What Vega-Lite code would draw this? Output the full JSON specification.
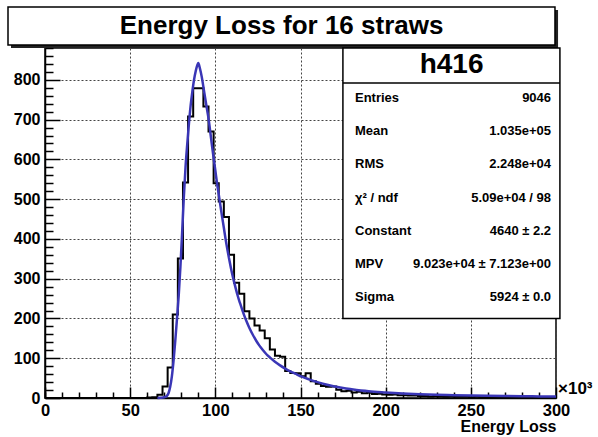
{
  "$schema": "https://vega.github.io/schema/vega-lite/v6.json",
  "width": 511,
  "height": 350,
  "autosize": {"type": "none"},
  "padding": {"left": 45, "top": 48, "right": 42, "bottom": 39},
  "background": "white",
  "config": {
    "view": {"stroke": "black", "strokeWidth": 1.5},
    "font": "Liberation Sans",
    "axis": {"labelFont": "Liberation Sans", "titleFont": "Liberation Sans", "labelColor": "black", "titleColor": "black", "domainColor": "black", "tickColor": "black"}
  },
  "datasets": {
    "hist": [
      {"e": 0, "n": 0}, {"e": 3, "n": 0}, {"e": 6, "n": 0}, {"e": 9, "n": 0}, {"e": 12, "n": 0},
      {"e": 15, "n": 0}, {"e": 18, "n": 0}, {"e": 21, "n": 0}, {"e": 24, "n": 0}, {"e": 27, "n": 0},
      {"e": 30, "n": 0}, {"e": 33, "n": 0}, {"e": 36, "n": 0}, {"e": 39, "n": 0}, {"e": 42, "n": 0},
      {"e": 45, "n": 0}, {"e": 48, "n": 0}, {"e": 51, "n": 0}, {"e": 54, "n": 0}, {"e": 57, "n": 0},
      {"e": 60, "n": 1}, {"e": 63, "n": 2}, {"e": 66, "n": 8}, {"e": 69, "n": 29}, {"e": 72, "n": 77},
      {"e": 75, "n": 210}, {"e": 78, "n": 351}, {"e": 81, "n": 542}, {"e": 84, "n": 708}, {"e": 87, "n": 779},
      {"e": 90, "n": 779}, {"e": 93, "n": 733}, {"e": 96, "n": 670}, {"e": 99, "n": 540}, {"e": 102, "n": 494},
      {"e": 105, "n": 455}, {"e": 108, "n": 360}, {"e": 111, "n": 290}, {"e": 114, "n": 262}, {"e": 117, "n": 218},
      {"e": 120, "n": 200}, {"e": 123, "n": 182}, {"e": 126, "n": 170}, {"e": 129, "n": 150}, {"e": 132, "n": 122},
      {"e": 135, "n": 106}, {"e": 138, "n": 104}, {"e": 141, "n": 68}, {"e": 144, "n": 63}, {"e": 147, "n": 62},
      {"e": 150, "n": 55}, {"e": 153, "n": 62}, {"e": 156, "n": 42}, {"e": 159, "n": 36}, {"e": 162, "n": 30},
      {"e": 165, "n": 28}, {"e": 168, "n": 29}, {"e": 171, "n": 21}, {"e": 174, "n": 17}, {"e": 177, "n": 18},
      {"e": 180, "n": 14}, {"e": 183, "n": 16}, {"e": 186, "n": 12}, {"e": 189, "n": 13}, {"e": 192, "n": 10},
      {"e": 195, "n": 11}, {"e": 198, "n": 9}, {"e": 201, "n": 8}, {"e": 204, "n": 9}, {"e": 207, "n": 7},
      {"e": 210, "n": 7}, {"e": 213, "n": 6}, {"e": 216, "n": 6}, {"e": 219, "n": 5}, {"e": 222, "n": 5},
      {"e": 225, "n": 4}, {"e": 228, "n": 5}, {"e": 231, "n": 4}, {"e": 234, "n": 3}, {"e": 237, "n": 4},
      {"e": 240, "n": 3}, {"e": 243, "n": 3}, {"e": 246, "n": 3}, {"e": 249, "n": 2}, {"e": 252, "n": 3},
      {"e": 255, "n": 2}, {"e": 258, "n": 2}, {"e": 261, "n": 2}, {"e": 264, "n": 2}, {"e": 267, "n": 1},
      {"e": 270, "n": 2}, {"e": 273, "n": 1}, {"e": 276, "n": 1}, {"e": 279, "n": 1}, {"e": 282, "n": 1},
      {"e": 285, "n": 1}, {"e": 288, "n": 1}, {"e": 291, "n": 1}, {"e": 294, "n": 0}, {"e": 297, "n": 1},
      {"e": 300, "n": 1}
    ],
    "fit": [
      {"e": 66, "v": 0}, {"e": 68, "v": 0.5}, {"e": 70, "v": 2}, {"e": 71.5, "v": 5}, {"e": 72.5, "v": 12},
      {"e": 73.5, "v": 28}, {"e": 74.5, "v": 55}, {"e": 75.5, "v": 95}, {"e": 76.5, "v": 145}, {"e": 77.5, "v": 200},
      {"e": 78.5, "v": 258}, {"e": 79.5, "v": 330}, {"e": 80.5, "v": 415}, {"e": 81.5, "v": 505}, {"e": 82.5, "v": 580},
      {"e": 83.5, "v": 638}, {"e": 84.5, "v": 690}, {"e": 85.5, "v": 735}, {"e": 86.5, "v": 770}, {"e": 87.5, "v": 800},
      {"e": 88.5, "v": 822}, {"e": 89.5, "v": 838}, {"e": 90, "v": 842}, {"e": 91, "v": 828}, {"e": 92, "v": 808},
      {"e": 93, "v": 782}, {"e": 94, "v": 755}, {"e": 95, "v": 729}, {"e": 96, "v": 703}, {"e": 97, "v": 670},
      {"e": 98, "v": 636}, {"e": 99, "v": 603}, {"e": 100, "v": 572}, {"e": 101, "v": 540}, {"e": 102, "v": 512},
      {"e": 103, "v": 483}, {"e": 104, "v": 455}, {"e": 105, "v": 428}, {"e": 106, "v": 400}, {"e": 107, "v": 375},
      {"e": 108, "v": 352}, {"e": 109, "v": 330}, {"e": 110, "v": 310}, {"e": 111, "v": 292}, {"e": 112, "v": 275},
      {"e": 113, "v": 259}, {"e": 114, "v": 245}, {"e": 115, "v": 232}, {"e": 116, "v": 219}, {"e": 117, "v": 207},
      {"e": 118, "v": 196}, {"e": 120, "v": 176}, {"e": 122, "v": 159}, {"e": 124, "v": 144}, {"e": 126, "v": 131},
      {"e": 128, "v": 120}, {"e": 130, "v": 110}, {"e": 132, "v": 102}, {"e": 135, "v": 91}, {"e": 138, "v": 82},
      {"e": 141, "v": 74}, {"e": 144, "v": 67}, {"e": 147, "v": 61}, {"e": 150, "v": 55}, {"e": 155, "v": 47},
      {"e": 160, "v": 40}, {"e": 165, "v": 34}, {"e": 170, "v": 29}, {"e": 175, "v": 25}, {"e": 180, "v": 22},
      {"e": 190, "v": 17}, {"e": 200, "v": 14}, {"e": 210, "v": 11.5}, {"e": 220, "v": 9.7}, {"e": 230, "v": 8.3},
      {"e": 240, "v": 7.2}, {"e": 250, "v": 6.3}, {"e": 260, "v": 5.5}, {"e": 270, "v": 4.9}, {"e": 280, "v": 4.4},
      {"e": 290, "v": 4}, {"e": 300, "v": 3.6}
    ],
    "stats": [
      {"name": "Entries", "val": "9046"},
      {"name": "Mean", "val": "1.035e+05"},
      {"name": "RMS", "val": "2.248e+04"},
      {"name": "χ² / ndf", "val": "5.09e+04 / 98"},
      {"name": "Constant", "val": "4640 ± 2.2"},
      {"name": "MPV", "val": "9.023e+04 ± 7.123e+00"},
      {"name": "Sigma", "val": "5924 ± 0.0"}
    ]
  },
  "layer": [
    {
      "layer": [
        {
          "data": {"values": [{}]},
          "mark": {"type": "rect", "fill": "#222"},
          "encoding": {
            "x": {"datum": -19.96, "type": "quantitative", "axis": null},
            "x2": {"datum": 301.2},
            "y": {"datum": 975.6, "type": "quantitative", "axis": null},
            "y2": {"datum": 880}
          }
        },
        {
          "data": {"values": [{}]},
          "mark": {"type": "rect", "fill": "white", "stroke": "black", "strokeWidth": 1.5},
          "encoding": {
            "x": {"datum": -21.72, "type": "quantitative", "axis": null},
            "x2": {"datum": 299.4},
            "y": {"datum": 983.1, "type": "quantitative", "axis": null},
            "y2": {"datum": 887.6}
          }
        },
        {
          "data": {"values": [{"t": "Energy Loss for 16 straws"}]},
          "mark": {"type": "text", "font": "Liberation Sans", "fontWeight": "bold", "fontSize": 26, "align": "center", "baseline": "middle", "color": "black"},
          "encoding": {
            "text": {"field": "t"},
            "x": {"datum": 138.9, "type": "quantitative", "axis": null},
            "y": {"datum": 935.5, "type": "quantitative", "axis": null}
          }
        },
        {
          "data": {"name": "hist"},
          "mark": {"type": "line", "interpolate": "step-after", "color": "black", "strokeWidth": 2},
          "encoding": {
            "x": {
              "field": "e", "type": "quantitative",
              "scale": {"domain": [0, 300], "nice": false, "zero": false},
              "axis": {
                "orient": "bottom",
                "values": [0, 50, 100, 150, 200, 250, 300],
                "grid": true, "gridDash": [2, 2], "gridColor": "#444", "gridWidth": 1,
                "tickSize": -11, "tickWidth": 1.5, "domainWidth": 1.5,
                "labelFontWeight": "bold", "labelFontSize": 16.5, "labelPadding": 15,
                "labelFlush": false, "labelOverlap": false,
                "title": "Energy Loss", "titleAnchor": "end", "titleFontSize": 16, "titleFontWeight": "bold", "titlePadding": 0
              }
            },
            "y": {
              "field": "n", "type": "quantitative",
              "scale": {"domain": [0, 880], "nice": false, "zero": true},
              "axis": {
                "orient": "left",
                "values": [0, 100, 200, 300, 400, 500, 600, 700, 800],
                "grid": true, "gridDash": [2, 2], "gridColor": "#444", "gridWidth": 1,
                "tickSize": -15, "tickWidth": 1.5, "domainWidth": 1.5,
                "labelFontWeight": "bold", "labelFontSize": 16, "labelPadding": 20,
                "labelFlush": false, "labelOverlap": false,
                "title": null
              }
            }
          }
        },
        {
          "data": {"name": "fit"},
          "mark": {"type": "line", "interpolate": "monotone", "color": "#3a36b6", "strokeWidth": 2.5},
          "encoding": {
            "x": {
              "field": "e", "type": "quantitative",
              "axis": {
                "orient": "bottom",
                "values": [0,10,20,30,40,60,70,80,90,110,120,130,140,160,170,180,190,210,220,230,240,260,270,280,290],
                "labels": false, "grid": false, "domain": false,
                "tickSize": -6, "tickWidth": 1.5, "title": null
              }
            },
            "y": {
              "field": "v", "type": "quantitative",
              "axis": {
                "orient": "left",
                "values": [20,40,60,80,120,140,160,180,220,240,260,280,320,340,360,380,420,440,460,480,520,540,560,580,620,640,660,680,720,740,760,780,820,840,860,880],
                "labels": false, "grid": false, "domain": false,
                "tickSize": -8, "tickWidth": 1.5, "title": null
              }
            }
          }
        },
        {
          "data": {"values": [{}]},
          "mark": {"type": "rect", "fill": "white", "stroke": "black", "strokeWidth": 1.5},
          "encoding": {
            "x": {"datum": 174.9, "type": "quantitative", "axis": null},
            "x2": {"datum": 302.3},
            "y": {"datum": 880, "type": "quantitative", "axis": null},
            "y2": {"datum": 200}
          }
        },
        {
          "data": {"values": [{}]},
          "mark": {"type": "rule", "color": "black", "strokeWidth": 1.5},
          "encoding": {
            "x": {"datum": 174.9, "type": "quantitative", "axis": null},
            "x2": {"datum": 302.3},
            "y": {"datum": 792, "type": "quantitative", "axis": null}
          }
        },
        {
          "data": {"values": [{"t": "×10³"}]},
          "mark": {"type": "text", "font": "Liberation Sans", "fontWeight": "bold", "fontSize": 17, "align": "left", "baseline": "middle", "dx": 2, "dy": -9, "color": "black"},
          "encoding": {
            "text": {"field": "t"},
            "x": {"datum": 300, "type": "quantitative", "axis": null},
            "y": {"datum": 0, "type": "quantitative", "axis": null}
          }
        }
      ],
      "resolve": {"axis": {"x": "independent", "y": "independent"}}
    },
    {
      "layer": [
        {
          "data": {"values": [{"name": "h416"}]},
          "mark": {"type": "text", "font": "Liberation Sans", "fontWeight": "bold", "fontSize": 28, "align": "center", "baseline": "middle", "color": "black"},
          "encoding": {
            "text": {"field": "name"},
            "x": {"datum": 238.7, "type": "quantitative", "axis": null},
            "y": {"field": "name", "type": "nominal", "axis": null,
                  "scale": {"type": "point", "domain": ["h416", "Entries", "Mean", "RMS", "χ² / ndf", "Constant", "MPV", "Sigma"], "range": [0, 266], "padding": 0.5}}
          }
        },
        {
          "data": {"name": "stats"},
          "mark": {"type": "text", "font": "Liberation Sans", "fontWeight": "bold", "fontSize": 13, "align": "left", "baseline": "middle", "color": "black"},
          "encoding": {
            "text": {"field": "name"},
            "x": {"datum": 182, "type": "quantitative", "axis": null},
            "y": {"field": "name", "type": "nominal", "axis": null}
          }
        },
        {
          "data": {"name": "stats"},
          "mark": {"type": "text", "font": "Liberation Sans", "fontWeight": "bold", "fontSize": 13, "align": "right", "baseline": "middle", "color": "black"},
          "encoding": {
            "text": {"field": "val"},
            "x": {"datum": 297.1, "type": "quantitative", "axis": null},
            "y": {"field": "name", "type": "nominal", "axis": null}
          }
        }
      ]
    }
  ],
  "resolve": {"scale": {"y": "independent"}, "axis": {"x": "independent", "y": "independent"}}
}
